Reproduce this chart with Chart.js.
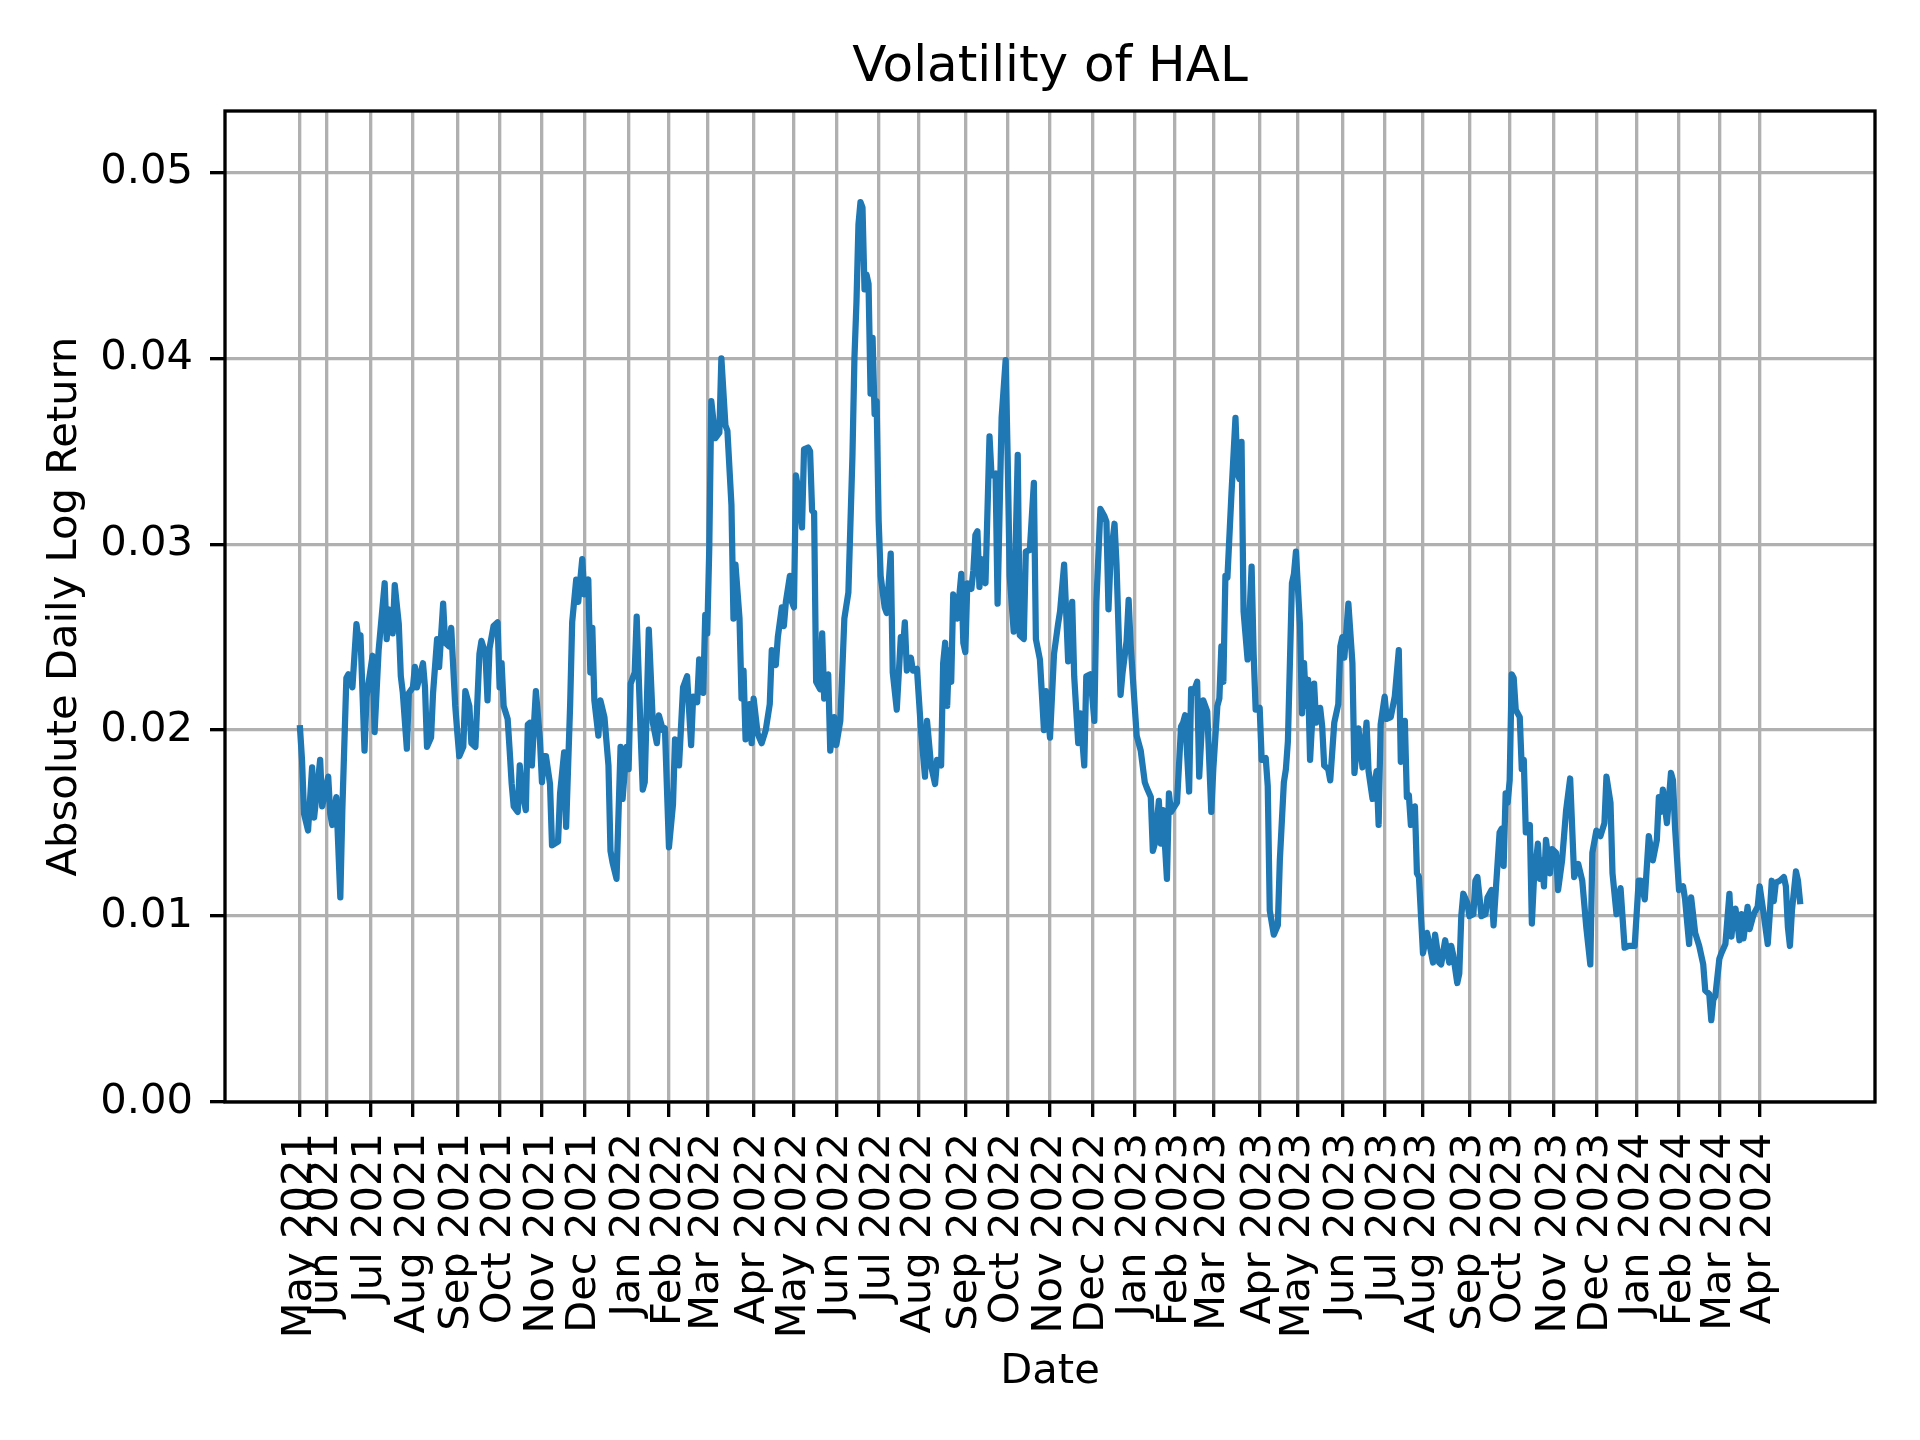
<!DOCTYPE html>
<html>
<head>
<meta charset="utf-8">
<title>Volatility of HAL</title>
<script src="https://cdn.jsdelivr.net/npm/chart.js@4.4.1/dist/chart.umd.min.js"></script>
<style>
  html, body { margin: 0; padding: 0; background: #ffffff; }
  canvas { display: block; }
</style>
</head>
<body>
<canvas id="chart" width="1920" height="1440"></canvas>
<script>
// Trading-day number (0 = first trading day in the series, mid May 2021)
const tradingDay = [
  0,1,2,4,6,7,10,11,14,15,16,18,20,21,23,24,26,28,29,30,32,33,36,37,39,42,43,44,46,47,49,50,51,53,54,56,57,58,61,62,63,65,66,68,69,71,72,74,75,77,78,79,81,82,84,85,87,89,90,92,93,94,96,98,99,100,101,103,104,105,106,108,109,110,112,113,114,115,116,117,
  119,120,121,122,124,125,128,129,131,132,134,135,137,138,140,141,143,144,145,146,148,149,151,153,154,155,157,159,160,162,163,164,166,167,169,170,171,173,175,177,178,180,181,183,185,186,188,190,192,194,195,197,198,200,201,202,203,204,206,208,209,211,212,214,215,216,218,219,220,221,223,224,225,227,229,231,233,234,236,237,239,240,241,243,244,
  245,246,247,249,250,252,253,254,255,256,258,259,260,262,263,265,266,268,270,272,274,275,276,277,278,279,280,281,282,283,284,285,286,287,288,290,291,293,294,296,298,299,300,301,303,304,306,308,310,311,313,315,316,318,319,320,321,322,323,324,326,328,329,330,331,333,334,335,336,337,338,340,342,343,345,346,348,350,351,352,354,356,357,359,360,362,364,365,
  367,369,370,372,374,376,377,379,380,381,383,384,386,387,389,390,392,394,395,397,399,400,401,402,404,405,407,408,410,411,412,415,417,419,420,422,423,424,426,427,428,430,431,432,435,437,438,439,441,442,443,445,446,448,450,452,453,455,456,457,458,459,460,462,464,465,466,467,468,470,472,473,474,476,477,479,480,481,483,485,486,488,489,490,492,493,494,496,
  497,498,499,500,501,503,504,506,507,508,510,511,513,515,516,517,518,520,522,523,525,527,529,530,532,534,535,536,538,539,541,543,545,546,548,549,550,551,553,554,555,557,559,560,562,563,565,566,568,570,571,572,574,575,576,577,579,580,582,583,584,586,588,589,591,592,593,595,596,597,598,599,600,601,602,603,605,606,607,608,610,611,612,614,615,616,617,
  618,620,621,623,624,626,628,630,632,634,636,638,640,641,643,645,647,648,650,651,653,655,657,659,662,664,665,667,669,671,673,674,675,676,678,680,681,682,684,686,687,689,690,692,694,696,697,699,700,701,702,704,705,707,709,710,711,712,714,715,716,718,719,721,723,724,726,728,729,730,731,732,734,736,737,738,739,740,742,743,744
];

// Rolling absolute daily log return
const volatility = [
  0.0201,0.0184,0.0155,0.0146,0.0180,0.0153,0.0184,0.0159,0.0175,0.0155,0.0149,0.0164,0.0110,0.0157,0.0228,0.0230,0.0223,0.0257,0.0249,0.0251,0.0189,0.0218,0.0240,0.0199,0.0243,0.0279,0.0249,0.0265,0.0252,0.0278,0.0257,0.0229,0.0220,0.0190,0.0220,0.0223,0.0234,0.0223,0.0236,0.0223,0.0191,0.0196,0.0220,0.0249,0.0234,0.0268,0.0247,0.0245,0.0255,0.0213,0.0199,0.0186,0.0191,0.0221,0.0213,0.0193,0.0191,0.0241,0.0248,0.0241,0.0216,0.0244,0.0256,0.0258,0.0223,0.0236,0.0213,0.0206,0.0189,0.0171,0.0159,0.0156,0.0181,0.0168,0.0157,0.0203,0.0204,0.0181,0.0202,0.0221,
  0.0195,0.0172,0.0186,0.0186,0.0171,0.0138,0.0140,0.0166,0.0188,0.0148,0.0214,0.0258,0.0281,0.0269,0.0292,0.0273,0.0281,0.0231,0.0255,0.0216,0.0197,0.0216,0.0207,0.0181,0.0135,0.0129,0.0120,0.0191,0.0163,0.0191,0.0179,0.0225,0.0231,0.0261,0.0197,0.0168,0.0172,0.0254,0.0204,0.0193,0.0208,0.0200,0.0201,0.0137,0.0160,0.0195,0.0181,0.0223,0.0229,0.0192,0.0218,0.0215,0.0238,0.0220,0.0262,0.0252,0.0298,0.0377,0.0357,0.0360,0.0400,0.0364,0.0361,0.0321,0.0260,0.0289,0.0260,0.0217,0.0232,0.0195,0.0214,0.0193,0.0217,0.0198,0.0193,0.0200,0.0214,0.0243,0.0235,0.0250,0.0266,0.0256,0.0269,0.0283,0.0269,
  0.0266,0.0337,0.0330,0.0309,0.0351,0.0352,0.0350,0.0318,0.0317,0.0226,0.0222,0.0252,0.0217,0.0230,0.0189,0.0207,0.0192,0.0205,0.0260,0.0274,0.0347,0.0400,0.0430,0.0472,0.0484,0.0481,0.0437,0.0445,0.0440,0.0381,0.0411,0.0370,0.0377,0.0313,0.0283,0.0266,0.0263,0.0295,0.0231,0.0211,0.0250,0.0243,0.0258,0.0232,0.0239,0.0232,0.0233,0.0200,0.0175,0.0205,0.0181,0.0171,0.0184,0.0181,0.0236,0.0247,0.0213,0.0243,0.0226,0.0273,0.0260,0.0284,0.0247,0.0242,0.0279,0.0276,0.0286,0.0305,0.0307,0.0277,0.0292,0.0279,0.0358,0.0337,0.0338,0.0268,0.0368,0.0399,0.0347,0.0283,0.0253,0.0348,0.0251,0.0249,0.0296,0.0297,0.0333,0.0249,
  0.0238,0.0200,0.0221,0.0196,0.0241,0.0257,0.0264,0.0289,0.0264,0.0237,0.0269,0.0229,0.0193,0.0209,0.0181,0.0229,0.0230,0.0205,0.0269,0.0319,0.0315,0.0312,0.0265,0.0292,0.0311,0.0289,0.0219,0.0231,0.0248,0.0270,0.0246,0.0197,0.0189,0.0172,0.0169,0.0164,0.0135,0.0139,0.0162,0.0139,0.0157,0.0120,0.0166,0.0156,0.0161,0.0202,0.0204,0.0208,0.0167,0.0222,0.0220,0.0226,0.0175,0.0216,0.0210,0.0156,0.0179,0.0213,0.0217,0.0245,0.0226,0.0283,0.0282,0.0327,0.0368,0.0338,0.0335,0.0355,0.0264,0.0238,0.0288,0.0241,0.0211,0.0212,0.0184,0.0185,0.0170,0.0103,0.0090,0.0095,0.0130,0.0172,0.0179,0.0194,0.0279,0.0284,0.0296,0.0256,
  0.0209,0.0236,0.0213,0.0227,0.0184,0.0225,0.0204,0.0212,0.0202,0.0181,0.0179,0.0173,0.0204,0.0214,0.0245,0.0250,0.0239,0.0268,0.0236,0.0177,0.0201,0.0180,0.0204,0.0178,0.0163,0.0178,0.0149,0.0203,0.0218,0.0206,0.0207,0.0218,0.0243,0.0183,0.0205,0.0164,0.0165,0.0149,0.0159,0.0123,0.0121,0.0080,0.0091,0.0086,0.0075,0.0090,0.0075,0.0074,0.0087,0.0075,0.0084,0.0079,0.0064,0.0069,0.0100,0.0112,0.0107,0.0100,0.0101,0.0119,0.0121,0.0100,0.0101,0.0110,0.0114,0.0095,0.0112,0.0145,0.0147,0.0127,0.0166,0.0161,0.0173,0.0230,0.0228,0.0211,0.0207,0.0179,0.0184,0.0145,0.0149,0.0096,0.0119,0.0139,0.0120,0.0130,0.0116,
  0.0141,0.0123,0.0136,0.0134,0.0114,0.0130,0.0157,0.0174,0.0121,0.0128,0.0119,0.0094,0.0074,0.0134,0.0146,0.0143,0.0150,0.0175,0.0161,0.0123,0.0101,0.0115,0.0083,0.0084,0.0084,0.0119,0.0119,0.0109,0.0143,0.0130,0.0141,0.0164,0.0156,0.0168,0.0150,0.0177,0.0173,0.0148,0.0114,0.0116,0.0109,0.0085,0.0110,0.0091,0.0084,0.0074,0.0060,0.0058,0.0044,0.0055,0.0057,0.0077,0.0080,0.0085,0.0112,0.0089,0.0101,0.0104,0.0087,0.0101,0.0088,0.0105,0.0093,0.0101,0.0105,0.0116,0.0101,0.0085,0.0101,0.0119,0.0108,0.0118,0.0119,0.0121,0.0116,0.0094,0.0084,0.0103,0.0124,0.0119,0.0108
];

// First trading day of each month (trading-day number) and its label
const tickDay = [0,13,35,56,78,99,120,141,163,183,202,225,245,266,287,307,330,351,372,393,414,434,453,476,495,517,538,557,580,600,622,643,663,684,704,724];
const tickLabels = [
  'May 2021','Jun 2021','Jul 2021','Aug 2021','Sep 2021','Oct 2021','Nov 2021','Dec 2021',
  'Jan 2022','Feb 2022','Mar 2022','Apr 2022','May 2022','Jun 2022','Jul 2022','Aug 2022','Sep 2022','Oct 2022','Nov 2022','Dec 2022',
  'Jan 2023','Feb 2023','Mar 2023','Apr 2023','May 2023','Jun 2023','Jul 2023','Aug 2023','Sep 2023','Oct 2023','Nov 2023','Dec 2023',
  'Jan 2024','Feb 2024','Mar 2024','Apr 2024'
];
const yTicks = [0, 0.01, 0.02, 0.03, 0.04, 0.05];

const FONT = 'DejaVu Sans';
const first = tradingDay[0], last = tradingDay[tradingDay.length - 1];
const xMin = first - 0.05 * (last - first);
const xMax = last + 0.05 * (last - first);

const framePlugin = {
  id: 'frame',
  afterDatasetsDraw(chart) {
    const { ctx, chartArea: a } = chart;
    ctx.save();
    ctx.strokeStyle = '#000000';
    ctx.lineWidth = 3.33;
    ctx.strokeRect(a.left, a.top, a.right - a.left, a.bottom - a.top);
    ctx.restore();
  }
};

const gridOpts = { color: '#b0b0b0', lineWidth: 3.33, tickLength: 15, tickColor: '#000000', tickWidth: 3.33 };

new Chart(document.getElementById('chart'), {
  type: 'line',
  data: {
    datasets: [{
      data: tradingDay.map((d, i) => ({ x: d, y: volatility[i] })),
      borderColor: '#1f77b4',
      borderWidth: 6.25,
      pointRadius: 0,
      tension: 0,
      fill: false,
      borderJoinStyle: 'round',
      borderCapStyle: 'square'
    }]
  },
  options: {
    responsive: false,
    devicePixelRatio: 1,
    animation: false,
    layout: { padding: { left: 0, right: 45, top: 0, bottom: 0 } },
    plugins: {
      legend: { display: false },
      tooltip: { enabled: false },
      title: {
        display: true,
        text: 'Volatility of HAL',
        color: '#000000',
        fullSize: false,
        font: { family: FONT, size: 50, weight: 'normal' },
        padding: { top: 38, bottom: 13 }
      }
    },
    scales: {
      x: {
        type: 'linear',
        min: xMin,
        max: xMax,
        afterBuildTicks: (s) => { s.ticks = tickDay.map(v => ({ value: v })); },
        afterFit: (s) => { s.height = 338; },
        ticks: {
          autoSkip: false,
          minRotation: 90,
          maxRotation: 90,
          padding: 16,
          color: '#000000',
          font: { family: FONT, size: 41.67 },
          callback: (v, i) => tickLabels[i]
        },
        grid: gridOpts,
        border: { display: false },
        title: {
          display: true,
          text: 'Date',
          color: '#000000',
          font: { family: FONT, size: 41.67 },
          padding: { top: 0, bottom: 43 }
        }
      },
      y: {
        type: 'linear',
        min: 0,
        max: 0.0533,
        afterBuildTicks: (s) => { s.ticks = yTicks.map(v => ({ value: v })); },
        afterFit: (s) => { s.width = 225; },
        ticks: {
          padding: 17,
          color: '#000000',
          font: { family: FONT, size: 41.67 },
          callback: (v) => Number(v).toFixed(2)
        },
        grid: gridOpts,
        border: { display: false },
        title: {
          display: true,
          text: 'Absolute Daily Log Return',
          color: '#000000',
          font: { family: FONT, size: 41.67 },
          padding: { top: 40, bottom: 0 }
        }
      }
    }
  },
  plugins: [framePlugin]
});
</script>
</body>
</html>
